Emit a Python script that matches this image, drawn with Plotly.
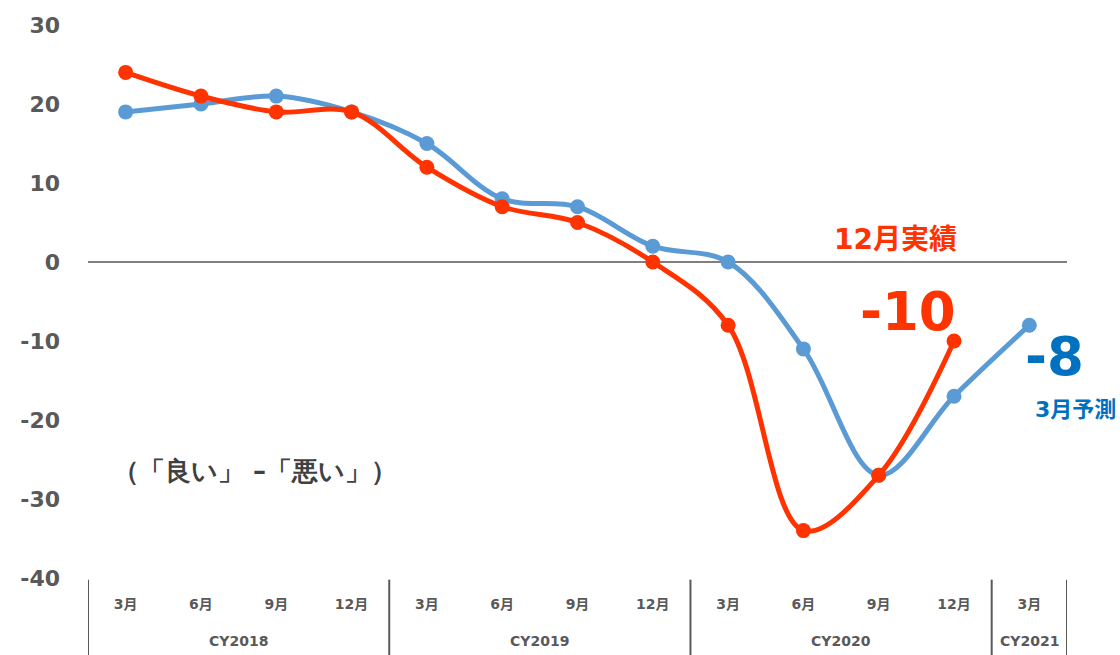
import plotly.graph_objects as go

# Quarter labels and calendar-year groups
months = ["3月", "6月", "9月", "12月",
          "3月", "6月", "9月", "12月",
          "3月", "6月", "9月", "12月",
          "3月"]
years = ["CY2018", "CY2019", "CY2020", "CY2021"]
year_sizes = [4, 4, 4, 1]

# Diffusion index: actual results (through Dec 2020) and forecast (through Mar 2021)
actual = [24, 21, 19, 19, 12, 7, 5, 0, -8, -34, -27, -10]
forecast = [19, 20, 21, 19, 15, 8, 7, 2, 0, -11, -27, -17, -8]

y_ticks = [30, 20, 10, 0, -10, -20, -30, -40]

RED = "#FF3300"
BLUE_LINE = "#5B9BD5"
BLUE_TEXT = "#0070C0"
GRAY = "#595959"
FONT = "DejaVu Sans, Noto Sans CJK JP, sans-serif"
NOTE_FONT = "DejaVu Sans"

x_idx = list(range(len(months)))

fig = go.Figure()
fig.add_trace(go.Scatter(
    x=x_idx, y=forecast, mode="lines+markers",
    line=dict(color=BLUE_LINE, width=5, shape="spline", smoothing=1.0),
    marker=dict(color=BLUE_LINE, size=15),
    showlegend=False, hoverinfo="y",
))
fig.add_trace(go.Scatter(
    x=x_idx[:len(actual)], y=actual, mode="lines+markers",
    line=dict(color=RED, width=5, shape="spline", smoothing=1.0),
    marker=dict(color=RED, size=15),
    showlegend=False, hoverinfo="y",
))

# Group dividers below the axis
bounds = [-0.5]
for n in year_sizes:
    bounds.append(bounds[-1] + n)
for b in bounds:
    fig.add_shape(type="line", xref="x", yref="paper",
                  x0=b, x1=b, y0=-0.003, y1=-0.14,
                  line=dict(color=GRAY, width=2))

annotations = []
for i, yr in enumerate(years):
    center = (bounds[i] + bounds[i + 1]) / 2
    annotations.append(dict(
        x=center, y=0, xref="x", yref="paper", yshift=-63,
        text=yr, showarrow=False, yanchor="middle",
        font=dict(family=FONT, size=14, color=GRAY, weight="bold"),
    ))

annotations += [
    dict(x=10.22, y=0, xref="x", yref="y", yshift=23, text="12月実績",
         showarrow=False, font=dict(family=FONT, size=28, color=RED, weight="bold")),
    dict(x=len(actual) - 1, y=actual[-1], xref="x", yref="y", xshift=-46, yshift=30,
         text=str(actual[-1]), showarrow=False,
         font=dict(family=FONT, size=53, color=RED, weight="bold")),
    dict(x=len(forecast) - 1, y=forecast[-1], xref="x", yref="y", xshift=25, yshift=-31,
         text=str(forecast[-1]), showarrow=False,
         font=dict(family=FONT, size=53, color=BLUE_TEXT, weight="bold")),
    dict(x=len(forecast) - 1, y=forecast[-1], xref="x", yref="y", xshift=46, yshift=-84,
         text="3月予測", showarrow=False,
         font=dict(family=FONT, size=22, color=BLUE_TEXT, weight="bold")),
    dict(x=1.72, y=-26.5, xref="x", yref="y",
         text="（「良い」\u00a0–「悪い」）", showarrow=False,
         font=dict(family=NOTE_FONT, size=26, color="#404040", weight="bold")),
]

fig.update_layout(
    width=1120, height=655,
    margin=dict(l=88, r=53, t=25, b=77),
    paper_bgcolor="white", plot_bgcolor="white",
    annotations=annotations,
    xaxis=dict(
        range=[-0.5, len(months) - 0.5],
        tickmode="array", tickvals=x_idx, ticktext=months,
        showgrid=False, zeroline=False, showline=False,
        ticks="", ticklabelstandoff=16,
        tickfont=dict(family=FONT, size=14, color=GRAY, weight="bold"),
    ),
    yaxis=dict(
        range=[-40, 30],
        tickmode="array", tickvals=y_ticks, ticktext=[str(v) for v in y_ticks],
        showgrid=False, showline=False, ticks="",
        zeroline=True, zerolinecolor="#7F7F7F", zerolinewidth=2,
        ticklabelstandoff=27,
        tickfont=dict(family=FONT, size=22, color=GRAY, weight="bold"),
    ),
)

fig.write_html("out.html")
